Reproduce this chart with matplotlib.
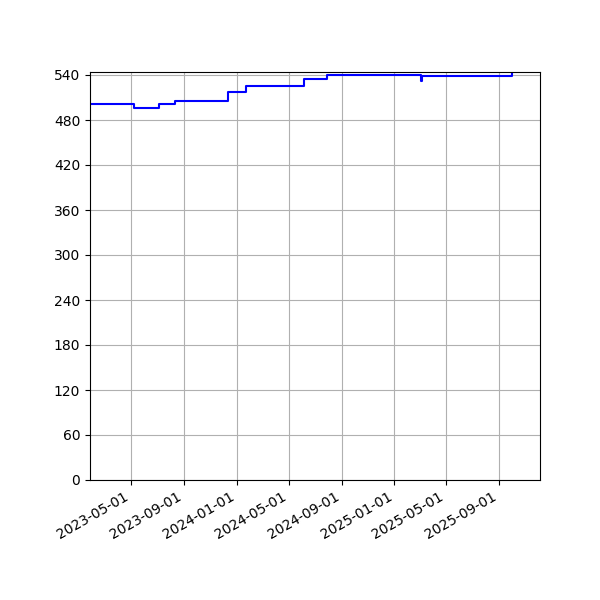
import pandas as pd
import matplotlib
matplotlib.use("Agg")
import matplotlib.pyplot as plt
import matplotlib.dates as mdates

# step changes of the series (value holds until next date)
change_dates = ["2023-01-01", "2023-05-09", "2023-07-04", "2023-08-12",
                "2023-12-12", "2024-01-22", "2024-06-05", "2024-07-28",
                "2025-03-05", "2025-03-07", "2025-10-01", "2025-10-08"]
values = [502, 496, 502, 505, 517, 525, 535, 540.4, 532, 538.8, 552, 552]
y_ticks = list(range(0, 541, 60))

dates = pd.to_datetime(change_dates)

fig, ax = plt.subplots(figsize=(6, 6), dpi=100)
ax.plot(dates, values, color="blue", lw=1.5, drawstyle="steps-post")

ax.set_xlim(pd.Timestamp("2023-01-26"), pd.Timestamp("2025-12-05"))
ax.set_ylim(0, 544)
ax.set_yticks(y_ticks)
ax.xaxis.set_major_locator(mdates.MonthLocator(bymonth=[1, 5, 9]))
ax.xaxis.set_major_formatter(mdates.DateFormatter("%Y-%m-%d"))
ax.grid(True)

fig.autofmt_xdate()
fig.subplots_adjust(left=0.15, right=0.9, bottom=0.2, top=0.88)
fig.savefig("out.png", dpi=100)
